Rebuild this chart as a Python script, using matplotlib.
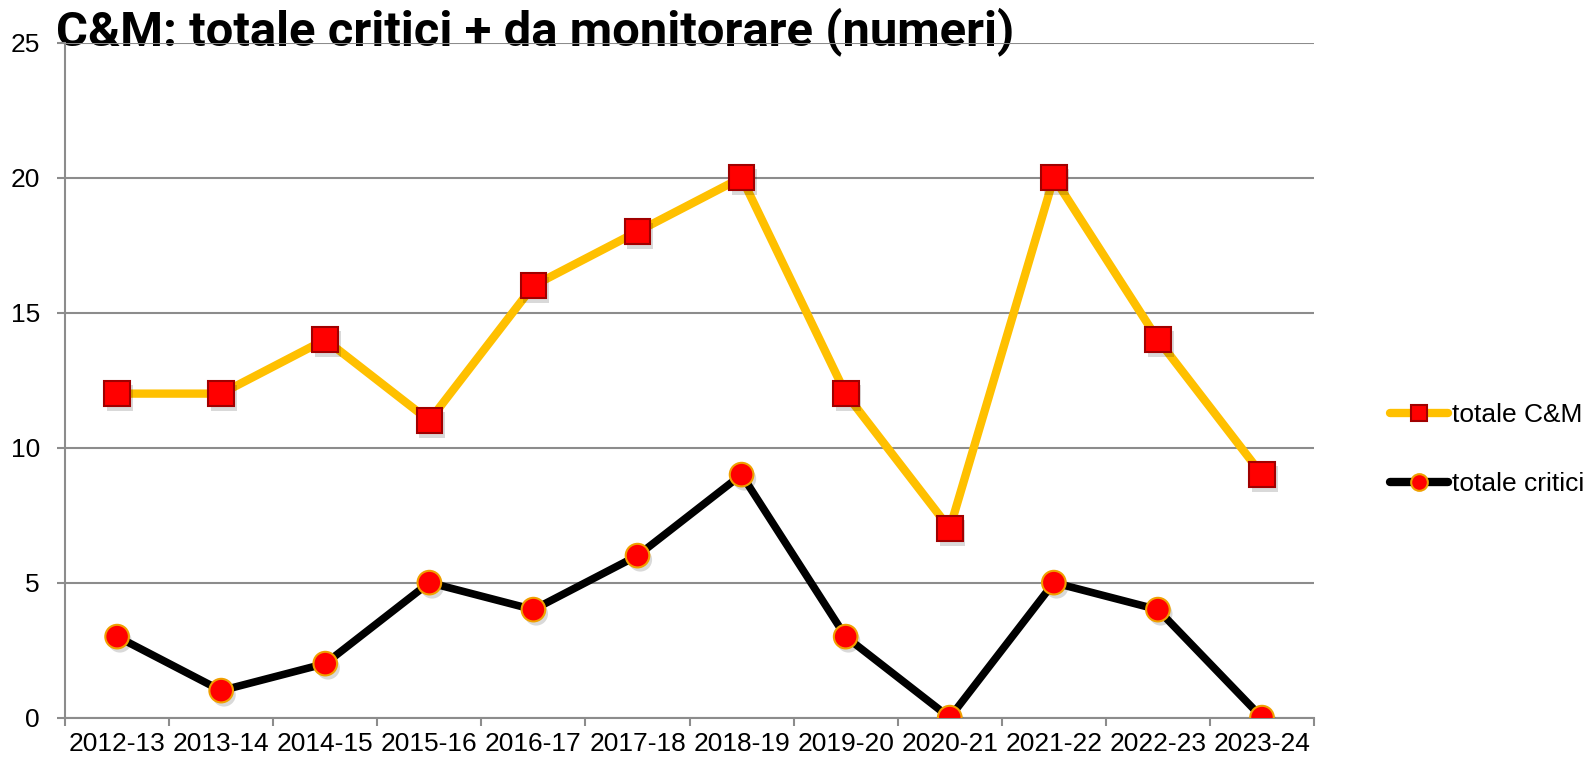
import matplotlib
matplotlib.use("Agg")
import matplotlib.pyplot as plt
import matplotlib.patheffects as pe
from matplotlib.lines import Line2D

seasons = ["2012-13", "2013-14", "2014-15", "2015-16", "2016-17", "2017-18",
           "2018-19", "2019-20", "2020-21", "2021-22", "2022-23", "2023-24"]
totale_cm = [12, 12, 14, 11, 16, 18, 20, 12, 7, 20, 14, 9]
totale_critici = [3, 1, 2, 5, 4, 6, 9, 3, 0, 5, 4, 0]
y_ticks = [0, 5, 10, 15, 20, 25]
title = "C&M: totale critici + da monitorare (numeri)"

plt.rcParams["font.family"] = ["Liberation Sans", "DejaVu Sans"]

YELLOW = "#FFC000"
GRID = "#8c8c8c"

fig = plt.figure(figsize=(15.87, 7.61), dpi=100)
ax = fig.add_axes([0.041, 0.057, 0.787, 0.887])

x = list(range(len(seasons)))
shadow = [pe.SimplePatchShadow(offset=(2, -3), shadow_rgbFace="#000000", alpha=0.15), pe.Normal()]

ax.plot(x, totale_cm, color=YELLOW, lw=6, solid_capstyle="round", zorder=3)
ax.plot(x, totale_cm, ls="none", marker="s", ms=18.5, mfc="#FF0000", mec="#A00000",
        mew=1.5, zorder=4, path_effects=shadow)
ax.plot(x, totale_critici, color="black", lw=5.5, solid_capstyle="round", zorder=3)
ax.plot(x, totale_critici, ls="none", marker="o", ms=17, mfc="#FF0000", mec="#F0A000",
        mew=1.5, zorder=4, path_effects=shadow)

ax.set_xlim(-0.5, len(seasons) - 0.5)
ax.set_ylim(0, 25)
ax.set_yticks(y_ticks)
ax.set_xticks([i - 0.5 for i in range(len(seasons) + 1)])
ax.set_xticklabels([])
ax.set_xticks(x, minor=True)
ax.set_xticklabels(seasons, minor=True)
ax.tick_params(axis="x", which="minor", length=0, labelsize=19, pad=10)
ax.tick_params(axis="x", which="major", length=6, width=1.5, color=GRID, direction="out")
ax.tick_params(axis="y", length=6, width=1.5, color=GRID, labelsize=19, pad=12)

ax.grid(axis="y", color=GRID, lw=1.5)
ax.set_axisbelow("line")
for s in ["top", "right"]:
    ax.spines[s].set_visible(False)
for s in ["left", "bottom"]:
    ax.spines[s].set_color(GRID)
    ax.spines[s].set_linewidth(1.5)

# title sits under the top gridline, sized to the reference width
t = ax.text(0.035, 0.941, title, transform=fig.transFigure, fontsize=30, fontweight="bold",
            family=["Roboto", "DejaVu Sans"], ha="left", va="baseline", zorder=1, clip_on=False)
r = fig.canvas.get_renderer()
w = t.get_window_extent(r).width
t.set_fontsize(30 * 956 / w)

handles = [
    Line2D([], [], color=YELLOW, lw=6, solid_capstyle="round", marker="s", ms=12,
           mfc="#FF0000", mec="#A00000", mew=1.5),
    Line2D([], [], color="black", lw=6, solid_capstyle="round", marker="o", ms=12,
           mfc="#FF0000", mec="#F0A000", mew=1.5),
]
ax.legend(handles, ["totale C&M", "totale critici"], loc="center left",
          bbox_to_anchor=(0.876, 0.409), bbox_transform=fig.transFigure,
          frameon=False, fontsize=19, handlelength=2.2, handletextpad=0.15,
          labelspacing=1.7, borderpad=0, borderaxespad=0)

fig.savefig("out.png", dpi=100)
